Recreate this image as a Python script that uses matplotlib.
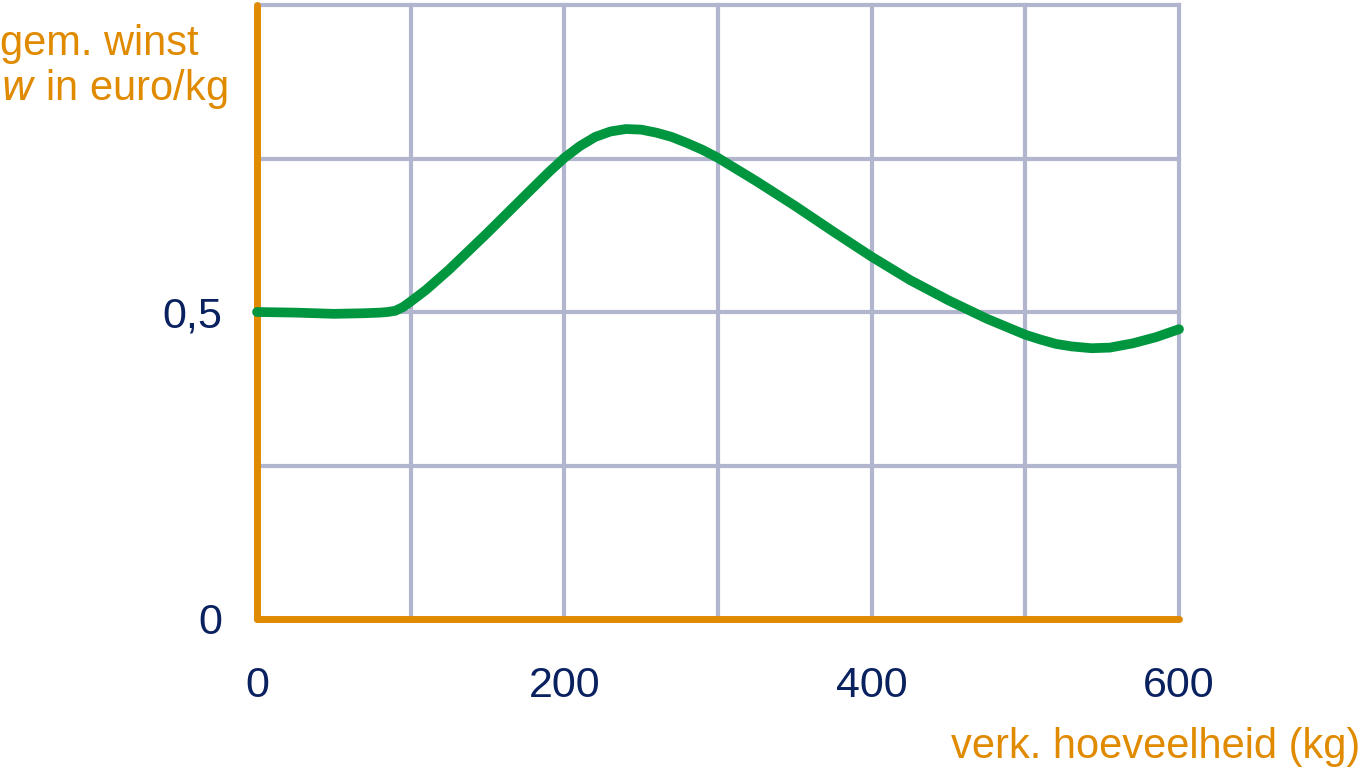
import matplotlib.pyplot as plt

plt.rcParams['font.family'] = ['Liberation Sans', 'DejaVu Sans']

hoeveelheid = [0, 25, 50, 70, 80, 85, 90, 95, 100, 110, 125, 150, 175, 190,
               200, 210, 220, 230, 240, 250, 260, 270, 280, 290, 300, 325,
               350, 375, 400, 425, 450, 475, 500, 510, 520, 530, 543, 555,
               570, 585, 600]
winst = [0.500, 0.499, 0.497, 0.498, 0.499, 0.500, 0.502, 0.508, 0.517, 0.536,
         0.569, 0.629, 0.691, 0.728, 0.751, 0.770, 0.785, 0.794, 0.798, 0.797,
         0.792, 0.785, 0.775, 0.764, 0.751, 0.713, 0.673, 0.631, 0.590, 0.552,
         0.519, 0.489, 0.463, 0.455, 0.448, 0.444, 0.441, 0.442, 0.449, 0.459,
         0.472]

x_grid = [0, 100, 200, 300, 400, 500, 600]
x_labels = ['0', '', '200', '', '400', '', '600']
y_grid = [0, 0.25, 0.5, 0.75, 1.0]
y_labels = ['0', '', '0,5', '', '']

orange = '#E08A00'
green = '#00963F'
grid_col = '#B1B5CD'
navy = '#0A2160'

fig = plt.figure(figsize=(13.62, 7.68), dpi=100)
ax = fig.add_axes([257 / 1362, 1 - 619 / 768, (1179 - 257) / 1362, (619 - 5) / 768])

ax.set_xlim(0, 600)
ax.set_ylim(0, 1.0)
ax.set_xticks(x_grid)
ax.set_xticklabels(x_labels)
ax.set_yticks(y_grid)
ax.set_yticklabels(y_labels)
ax.tick_params(length=0, labelsize=31, labelcolor=navy)
ax.tick_params(axis='x', pad=34)
ax.tick_params(axis='y', pad=25)

ax.grid(True, color=grid_col, linewidth=3)
for gl in ax.get_xgridlines() + ax.get_ygridlines():
    gl.set_clip_on(False)
ax.set_axisbelow(True)

for side in ['top', 'right']:
    ax.spines[side].set_visible(False)
for side in ['left', 'bottom']:
    ax.spines[side].set_color(orange)
    ax.spines[side].set_linewidth(5)
    ax.spines[side].set_capstyle('round')
    ax.spines[side].set_zorder(3)

ax.plot(hoeveelheid, winst, color=green, linewidth=7, solid_capstyle='round',
        solid_joinstyle='round', zorder=4, clip_on=False)

fig.text(0, 1 - 55 / 768, 'gem. winst', fontsize=30, color=orange, ha='left', va='baseline')
fig.text(0, 1 - 100 / 768, r'$\mathit{w}$ in euro/kg', fontsize=30, color=orange,
         ha='left', va='baseline')
fig.text(1360 / 1362, 1 - 758 / 768, 'verk. hoeveelheid (kg)', fontsize=30, color=orange,
         ha='right', va='baseline')

fig.savefig('out.png', dpi=100)
